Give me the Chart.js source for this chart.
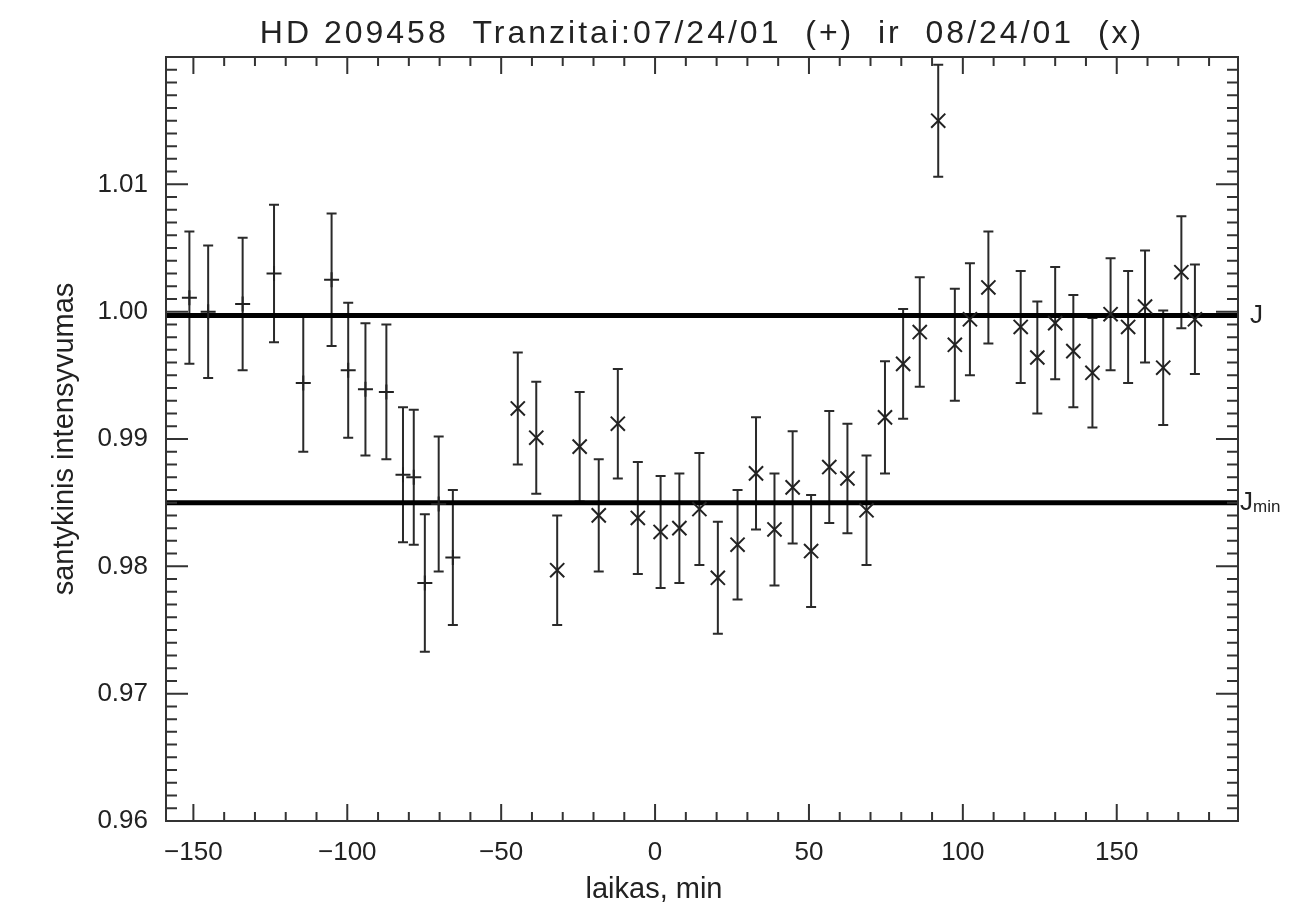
<!DOCTYPE html>
<html>
<head>
<meta charset="utf-8">
<script src="https://cdn.jsdelivr.net/npm/chart.js@4.4.1/dist/chart.umd.min.js"></script>
<style>
  html, body { margin: 0; background: #fff; }
</style>
</head>
<body>
<canvas id="grafikas" width="1298" height="910"></canvas>
<script>
// ---- duomenys (nuskaityti nuo paveikslo) ----
// 07/24/01 tranzitas (+)
const laikasPlus = [-151.3,-145.2,-134.0,-123.8,-114.3,-105.1,-99.7,-94.1,-87.3,-81.9,-78.4,-74.8,-70.3,-65.7];
const intensPlus = [1.0011,1.0000,1.0006,1.0030,0.9944,1.0025,0.9954,0.9939,0.9937,0.9872,0.9870,0.9787,0.9849,0.9807];
const klaidaPlus = [0.0052,0.0052,0.0052,0.0054,0.0054,0.0052,0.0053,0.0052,0.0053,0.0053,0.0053,0.0054,0.0053,0.0053];

// 08/24/01 tranzitas (x)
const laikasX = [-44.6,-38.6,-31.8,-24.5,-18.3,-12.1,-5.6,1.8,7.9,14.4,20.4,26.8,32.8,38.8,44.7,50.7,56.6,62.5,68.7,74.7,80.6,86.0,
                 92.0,97.4,102.3,108.3,118.8,124.2,130.0,135.9,142.1,148.0,153.7,159.2,165.1,171.0,175.4];
const intensX = [0.9924,0.9901,0.9797,0.9894,0.9840,0.9912,0.9838,0.9827,0.9830,0.9845,0.9791,0.9817,0.9873,0.9829,0.9862,0.9812,0.9878,0.9869,0.9844,0.9917,0.9959,0.9984,
                 1.0150,0.9974,0.9994,1.0019,0.9988,0.9964,0.9991,0.9969,0.9952,0.9998,0.9988,1.0004,0.9956,1.0031,0.9994];
const klaidaX = [0.0044,0.0044,0.0043,0.0043,0.0044,0.0043,0.0044,0.0044,0.0043,0.0044,0.0044,0.0043,0.0044,0.0044,0.0044,0.0044,0.0044,0.0043,0.0043,0.0044,0.0043,0.0043,
                 0.0044,0.0044,0.0044,0.0044,0.0044,0.0044,0.0044,0.0044,0.0043,0.0044,0.0044,0.0044,0.0045,0.0044,0.0043];

// lygiai
const lygisJ = 0.9997;
const lygisJmin = 0.985;

// asys
const xMin = -158.9, xMax = 189.4;
const yMin = 0.96, yMax = 1.02;
const xTikai = [-150,-100,-50,0,50,100,150];
const yTikai = [0.96,0.97,0.98,0.99,1.00,1.01];
const xSmulkus = 10, ySmulkus = 0.001;

const pavadinimas = "HD 209458  Tranzitai:07/24/01  (+)  ir  08/24/01  (x)";
const xPavadinimas = "laikas, min";
const yPavadinimas = "santykinis intensyvumas";

const SRIFTAS = "'Liberation Sans', Arial, sans-serif";
const SPALVA = "#222";

const taskai = (xs, ys) => xs.map((x,i) => ({x, y: ys[i]}));

/* ---------- klaidų brūkšniai ---------- */
const klaidos = {
  id: "klaidos",
  beforeDatasetsDraw(chart){
    const {ctx, scales:{x, y}} = chart;
    ctx.save();
    ctx.strokeStyle = "#2a2a2a";
    ctx.lineWidth = 2;
    chart.data.datasets.forEach(ds => {
      if(!ds.klaida) return;
      ds.data.forEach((p,i) => {
        const px = x.getPixelForValue(p.x);
        const yt = y.getPixelForValue(p.y + ds.klaida[i]);
        const yb = y.getPixelForValue(p.y - ds.klaida[i]);
        ctx.beginPath();
        ctx.moveTo(px, yt); ctx.lineTo(px, yb);
        ctx.moveTo(px-5, yt); ctx.lineTo(px+5, yt);
        ctx.moveTo(px-5, yb); ctx.lineTo(px+5, yb);
        ctx.stroke();
      });
    });
    ctx.restore();
  }
};

/* ---------- rėmas, brūkšneliai, užrašai ---------- */
const remas = {
  id: "remas",
  afterDraw(chart){
    const {ctx, chartArea:a, scales:{x, y}} = chart;
    ctx.save();
    ctx.strokeStyle = "#333";
    ctx.lineWidth = 2;
    ctx.strokeRect(a.left, a.top, a.right-a.left, a.bottom-a.top);
    ctx.beginPath();
    for(let k=Math.ceil(xMin/xSmulkus); k*xSmulkus<=xMax; k++){
      const v = k*xSmulkus, px = x.getPixelForValue(v);
      const l = xTikai.includes(v) ? 17 : 9;
      ctx.moveTo(px, a.bottom); ctx.lineTo(px, a.bottom-l);
      ctx.moveTo(px, a.top); ctx.lineTo(px, a.top+l);
    }
    const n0 = Math.round(yMin/ySmulkus), n1 = Math.round(yMax/ySmulkus);
    for(let k=n0; k<=n1; k++){
      const py = y.getPixelForValue(k*ySmulkus);
      const l = (k % 10 === 0) ? 22 : 11;
      ctx.moveTo(a.left, py); ctx.lineTo(a.left+l, py);
      ctx.moveTo(a.right, py); ctx.lineTo(a.right-l, py);
    }
    ctx.stroke();

    ctx.fillStyle = SPALVA;
    // pavadinimas
    ctx.textAlign = "center";
    ctx.textBaseline = "alphabetic";
    ctx.font = "32px " + SRIFTAS;
    ctx.letterSpacing = "3px";
    ctx.fillText(pavadinimas, (a.left+a.right)/2, 43);
    ctx.letterSpacing = "0px";
    // x ašies pavadinimas
    ctx.font = "29px " + SRIFTAS;
    ctx.fillText(xPavadinimas, (a.left+a.right)/2 - 48, 898);

    // J žymės
    ctx.textBaseline = "middle";
    ctx.textAlign = "left";
    ctx.font = "26px " + SRIFTAS;
    ctx.fillText("J", a.right+12, y.getPixelForValue(lygisJ));
    const yj = y.getPixelForValue(lygisJmin);
    ctx.fillText("J", a.right+2, yj);
    const w = ctx.measureText("J").width;
    ctx.font = "17px " + SRIFTAS;
    ctx.fillText("min", a.right+2+w, yj+5);
    ctx.restore();
  }
};

const linija = lvl => ({
  type: "line",
  data: [{x:xMin, y:lvl}, {x:xMax, y:lvl}],
  borderColor: "#000",
  borderWidth: 5,
  pointRadius: 0,
  showLine: true
});

new Chart(document.getElementById("grafikas"), {
  type: "scatter",
  data: {
    datasets: [
      { data: taskai(laikasPlus, intensPlus), klaida: klaidaPlus,
        pointStyle: "cross", pointRadius: 7.5, borderColor: "#222", borderWidth: 2, backgroundColor: "#222" },
      { data: taskai(laikasX, intensX), klaida: klaidaX,
        pointStyle: "crossRot", pointRadius: 10, borderColor: "#222", borderWidth: 2, backgroundColor: "#222" },
      linija(lygisJ),
      linija(lygisJmin)
    ]
  },
  options: {
    responsive: false,
    animation: false,
    devicePixelRatio: 1,
    layout: { padding: { left: 0, right: 60, top: 57, bottom: 0 } },
    plugins: {
      legend: { display: false },
      tooltip: { enabled: false },
      title: { display: false }
    },
    scales: {
      x: {
        type: "linear", min: xMin, max: xMax,
        grid: { display: false }, border: { display: false },
        afterBuildTicks: s => { s.ticks = xTikai.map(v => ({value: v})); },
        ticks: {
          color: SPALVA, padding: 8, autoSkip: false,
          font: { family: SRIFTAS, size: 26 }, maxRotation: 0,
          callback: v => v < 0 ? "\u2212" + Math.abs(v) : String(v)
        },
        afterFit: s => { s.height = 89; }
      },
      y: {
        type: "linear", min: yMin, max: yMax,
        grid: { display: false }, border: { display: false },
        afterBuildTicks: s => { s.ticks = yTikai.map(v => ({value: v})); },
        ticks: {
          color: SPALVA, padding: 10, autoSkip: false,
          font: { family: SRIFTAS, size: 26 },
          callback: v => v.toFixed(2)
        },
        title: { display: true, text: yPavadinimas, color: SPALVA,
          font: { family: SRIFTAS, size: 29 }, padding: { top: 48, bottom: 0 } },
        afterFit: s => { s.width = 166; }
      }
    }
  },
  plugins: [klaidos, remas]
});
</script>
</body>
</html>
